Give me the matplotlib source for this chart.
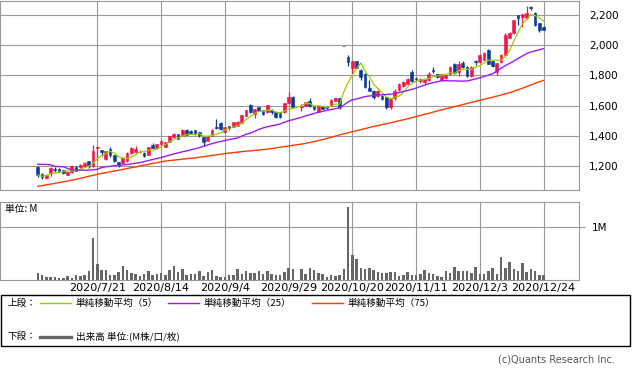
import numpy as np
import pandas as pd
import matplotlib
matplotlib.use('Agg')
import matplotlib.pyplot as plt
from matplotlib.lines import Line2D
from matplotlib.patches import Rectangle

nan = np.nan

# daily candles (index 61 = no trading day)
opens = [1195, 1149, 1118, 1156, 1180, 1182, 1171, 1142, 1158, 1193,
         1191, 1200, 1233, 1198, 1318, 1305, 1245, 1311, 1273, 1224,
         1218, 1231, 1284, 1296, 1293, 1289, 1275, 1336, 1322, 1344,
         1327, 1362, 1389, 1411, 1400, 1438, 1433, 1436, 1422, 1389,
         1367, 1400, 1460, 1482, 1422, 1462, 1460, 1467, 1484, 1533,
         1607, 1544, 1589, 1571, 1556, 1571, 1556, 1556, 1556, 1616,
         1656, nan, 1593, 1600, 1633, 1596, 1560, 1596, 1593, 1600,
         1633, 1649, 1993, 1925, 1851, 1893, 1838, 1811, 1716, 1700,
         1667, 1667, 1656, 1589, 1651, 1704, 1727, 1744, 1822, 1780,
         1762, 1758, 1767, 1838, 1807, 1767, 1784, 1811, 1878, 1822,
         1882, 1856, 1793, 1893, 1889, 1904, 1971, 1893, 1822, 1889,
         1933, 2051, 2078, 2200, 2184, 2178, 2255, 2216, 2144, 2122]
highs = [1200, 1151, 1145, 1192, 1196, 1185, 1173, 1162, 1202, 1200,
         1213, 1227, 1236, 1340, 1331, 1307, 1302, 1329, 1275, 1227,
         1253, 1291, 1327, 1331, 1305, 1291, 1329, 1353, 1349, 1369,
         1358, 1402, 1418, 1413, 1447, 1442, 1436, 1440, 1425, 1391,
         1402, 1442, 1513, 1491, 1458, 1467, 1491, 1496, 1540, 1573,
         1609, 1580, 1593, 1573, 1607, 1575, 1558, 1558, 1618, 1689,
         1667, nan, 1611, 1625, 1649, 1600, 1602, 1598, 1598, 1642,
         1651, 1653, 1993, 1938, 1896, 1893, 1840, 1815, 1767, 1702,
         1702, 1670, 1660, 1649, 1710, 1750, 1760, 1782, 1833, 1784,
         1782, 1780, 1822, 1853, 1811, 1809, 1802, 1860, 1882, 1893,
         1893, 1860, 1862, 1900, 1940, 1955, 1973, 1896, 1885, 1940,
         2078, 2090, 2170, 2202, 2210, 2260, 2262, 2220, 2150, 2125]
lows = [1127, 1111, 1115, 1133, 1162, 1160, 1149, 1138, 1153, 1164,
        1187, 1193, 1189, 1193, 1242, 1264, 1242, 1262, 1227, 1195,
        1213, 1227, 1280, 1284, 1284, 1258, 1273, 1318, 1320, 1342,
        1324, 1358, 1385, 1378, 1398, 1405, 1409, 1407, 1395, 1333,
        1365, 1398, 1444, 1440, 1420, 1440, 1458, 1462, 1482, 1530,
        1553, 1520, 1565, 1540, 1553, 1545, 1520, 1520, 1553, 1611,
        1585, nan, 1567, 1598, 1589, 1570, 1558, 1575, 1580, 1598,
        1630, 1580, 1993, 1860, 1811, 1849, 1767, 1718, 1695, 1645,
        1660, 1640, 1580, 1578, 1640, 1700, 1722, 1740, 1756, 1762,
        1749, 1745, 1760, 1816, 1784, 1762, 1778, 1805, 1811, 1793,
        1851, 1789, 1789, 1867, 1882, 1900, 1875, 1855, 1800, 1884,
        1930, 2045, 2075, 2133, 2122, 2176, 2236, 2125, 2090, 2100]
closes = [1140, 1124, 1142, 1189, 1171, 1164, 1151, 1158, 1198, 1169,
          1205, 1218, 1200, 1300, 1324, 1293, 1300, 1275, 1231, 1207,
          1251, 1289, 1316, 1313, 1296, 1264, 1327, 1322, 1347, 1367,
          1356, 1400, 1415, 1380, 1438, 1407, 1411, 1409, 1407, 1356,
          1400, 1438, 1451, 1447, 1456, 1449, 1489, 1489, 1538, 1571,
          1556, 1578, 1567, 1544, 1604, 1556, 1522, 1524, 1616, 1660,
          1589, nan, 1598, 1622, 1600, 1575, 1600, 1578, 1585, 1640,
          1649, 1593, 1993, 1889, 1893, 1851, 1789, 1722, 1700, 1656,
          1700, 1644, 1589, 1644, 1700, 1740, 1756, 1778, 1762, 1773,
          1778, 1773, 1807, 1829, 1791, 1807, 1800, 1856, 1816, 1878,
          1856, 1793, 1856, 1886, 1933, 1949, 1878, 1860, 1882, 1933,
          2071, 2082, 2167, 2178, 2207, 2216, 2248, 2133, 2100, 2104]

# volume in millions
volumes = [0.138, 0.10, 0.063, 0.063, 0.063, 0.05, 0.044, 0.082, 0.044, 0.10,
           0.082, 0.10, 0.176, 0.80, 0.31, 0.19, 0.195, 0.10, 0.10, 0.157,
           0.27, 0.195, 0.138, 0.12, 0.082, 0.12, 0.176, 0.107, 0.12, 0.138,
           0.10, 0.195, 0.27, 0.157, 0.214, 0.10, 0.12, 0.12, 0.176, 0.082,
           0.157, 0.195, 0.082, 0.063, 0.063, 0.10, 0.10, 0.214, 0.12, 0.176,
           0.138, 0.138, 0.176, 0.12, 0.176, 0.12, 0.10, 0.10, 0.157, 0.233,
           0.214, nan, 0.214, 0.12, 0.233, 0.195, 0.138, 0.12, 0.063, 0.10,
           0.082, 0.10, 0.214, 1.384, 0.478, 0.40, 0.233, 0.214, 0.233, 0.195,
           0.157, 0.138, 0.138, 0.157, 0.157, 0.082, 0.10, 0.157, 0.10, 0.10,
           0.12, 0.195, 0.138, 0.12, 0.082, 0.063, 0.176, 0.138, 0.25, 0.176,
           0.176, 0.176, 0.138, 0.25, 0.12, 0.12, 0.176, 0.233, 0.12, 0.44,
           0.233, 0.346, 0.214, 0.176, 0.327, 0.157, 0.214, 0.176, 0.10, 0.10]

# 25 / 75 day moving averages
ma25 = [1211, 1211, 1210, 1208, 1198, 1196, 1195, 1184, 1175, 1173,
        1173, 1172, 1173, 1175, 1178, 1190, 1195, 1198, 1202, 1204,
        1207, 1210, 1214, 1218, 1222, 1229, 1236, 1243, 1250, 1256,
        1264, 1272, 1280, 1287, 1294, 1300, 1307, 1314, 1322, 1331,
        1340, 1348, 1356, 1362, 1369, 1375, 1380, 1386, 1398, 1410,
        1418, 1430, 1442, 1452, 1460, 1466, 1472, 1478, 1490, 1500,
        1507, 1515, 1522, 1532, 1540, 1548, 1556, 1562, 1568, 1574,
        1580, 1584, 1604, 1625, 1638, 1644, 1652, 1660, 1664, 1667,
        1670, 1672, 1674, 1676, 1680, 1686, 1693, 1700, 1708, 1716,
        1726, 1736, 1745, 1752, 1758, 1765, 1765, 1764, 1764, 1763,
        1762, 1763, 1770, 1777, 1784, 1793, 1802, 1811, 1830, 1848,
        1865, 1880, 1895, 1912, 1928, 1945, 1955, 1963, 1970, 1978]
ma75 = [1065, 1070, 1075, 1080, 1085, 1090, 1095, 1100, 1106, 1112,
        1118, 1125, 1132, 1138, 1145, 1150, 1156, 1161, 1167, 1172,
        1177, 1183, 1189, 1194, 1200, 1206, 1211, 1217, 1222, 1228,
        1233, 1236, 1239, 1242, 1245, 1248, 1251, 1254, 1258, 1262,
        1266, 1270, 1274, 1278, 1282, 1286, 1289, 1292, 1295, 1298,
        1300, 1303, 1306, 1309, 1312, 1316, 1320, 1324, 1328, 1332,
        1337, 1341, 1345, 1350, 1356, 1362, 1368, 1375, 1382, 1390,
        1398, 1406, 1413, 1420, 1427, 1434, 1441, 1448, 1455, 1462,
        1468, 1474, 1480, 1486, 1493, 1500, 1506, 1513, 1520, 1527,
        1535, 1542, 1549, 1557, 1564, 1572, 1579, 1586, 1593, 1600,
        1607, 1614, 1621, 1628, 1635, 1642, 1649, 1656, 1663, 1670,
        1678, 1686, 1695, 1705, 1715, 1726, 1737, 1748, 1758, 1767]

date_labels = ['2020/7/21', '2020/8/14', '2020/9/4', '2020/9/29',
               '2020/10/20', '2020/11/11', '2020/12/3', '2020/12/24']
price_ticks = [1200, 1400, 1600, 1800, 2000, 2200]

UP = '#f0144b'
DOWN = '#0a3a96'
GRID = '#999999'
JP = ['Noto Sans CJK JP', 'DejaVu Sans']

W, H = 633, 375
fig = plt.figure(figsize=(W / 100, H / 100), dpi=100)


def px_axes(l, t, r, b):
    return fig.add_axes([l / W, 1 - b / H, (r - l) / W, (b - t) / H])


o = np.array(opens, float)
hi = np.array(highs, float)
lo = np.array(lows, float)
c = np.array(closes, float)
n = len(c)
x = np.arange(n)
ok = ~np.isnan(c)
col = np.where(c > o, UP, DOWN)
ticks = list(range(n - 1, -1, -15))[::-1]
xlim = (-8.9, 127.4)

# --- price panel
ax = px_axes(0, 0.7, 579.3, 190)
ax.vlines(x[ok], lo[ok], hi[ok], colors=col[ok], lw=0.9, zorder=3)
ax.bar(x[ok], np.abs(c - o)[ok], bottom=np.minimum(o, c)[ok], width=0.65,
       color=col[ok], edgecolor=col[ok], linewidth=0.4, zorder=3)

ma5 = pd.Series(c).dropna().rolling(5, min_periods=1).mean()
ax.plot(ma5.index, ma5.values, color='#99cc00', lw=0.9, zorder=4)
ax.plot(x, ma25, color='#9b1cf0', lw=1.0, zorder=4)
ax.plot(x, ma75, color='#ff3c00', lw=1.0, zorder=4)

ax.set_xlim(*xlim)
ax.set_ylim(1041, 2295)
ax.set_yticks(price_ticks)
ax.set_yticklabels([f'{v:,}' for v in price_ticks])
ax.set_xticks(ticks)
ax.yaxis.tick_right()
ax.tick_params(axis='y', length=0, pad=7, labelsize=7.5)
ax.tick_params(axis='x', length=0, labelbottom=False)
ax.grid(True, color=GRID, lw=0.8)
ax.set_axisbelow(True)
for s in ax.spines.values():
    s.set_color(GRID)
    s.set_linewidth(0.8)

# --- volume panel
axv = px_axes(0, 201.7, 579.3, 280.3)
axv.bar(x, volumes, width=0.6, color='#666666', zorder=3)
axv.set_xlim(*xlim)
axv.set_ylim(0, 1.483)
axv.set_yticks([1])
axv.set_yticklabels(['1M'])
axv.yaxis.tick_right()
axv.set_xticks(ticks)
axv.set_xticklabels(date_labels)
axv.tick_params(axis='y', length=4, color=GRID, pad=5, labelsize=7.5)
axv.tick_params(axis='x', length=0, pad=2, labelsize=8)
axv.grid(True, color=GRID, lw=0.8)
axv.set_axisbelow(True)
for s in axv.spines.values():
    s.set_color(GRID)
    s.set_linewidth(0.8)
fig.text(5 / W, 1 - 209 / H, '単位: M', fontsize=7, va='center', family=JP)

# --- legend box
fig.add_artist(Rectangle((0.5 / W, 1 - 346 / H), 629.5 / W, 50.7 / H,
                         transform=fig.transFigure, fill=False,
                         edgecolor='black', lw=1))


def key(x0, x1, y, color, lw, label):
    fig.add_artist(Line2D([x0 / W, x1 / W], [1 - y / H, 1 - y / H],
                          transform=fig.transFigure, color=color, lw=lw))
    fig.text((x1 + 5) / W, 1 - y / H, label, fontsize=6.9, va='center',
             family=JP)


y1, y2 = 303.3, 336.7
fig.text(8 / W, 1 - y1 / H, '上段：', fontsize=6.9, va='center', family=JP)
key(40, 71, y1, '#99cc00', 1.0, '単純移動平均（5）')
key(168, 199, y1, '#9b1cf0', 1.0, '単純移動平均（25）')
key(312, 343, y1, '#ff3c00', 1.0, '単純移動平均（75）')
fig.text(8 / W, 1 - y2 / H, '下段：', fontsize=6.9, va='center', family=JP)
key(40, 71, y2, '#666666', 2.4, '出来高 単位:(M株/口/枚)')

fig.text(615 / W, 1 - 359 / H, '(c)Quants Research Inc.', ha='right',
         va='center', fontsize=7, color='#555555')

fig.savefig('out.png', dpi=100)
